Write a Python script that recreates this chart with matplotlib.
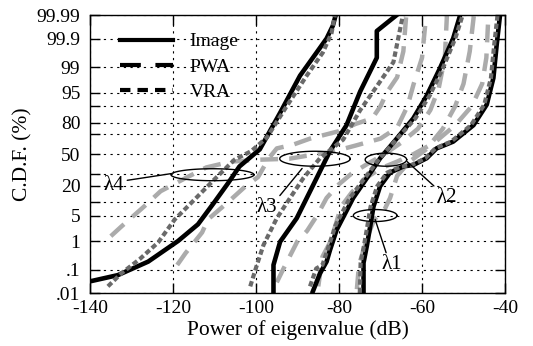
import numpy as np
import matplotlib
matplotlib.use("Agg")
import matplotlib.pyplot as plt
from matplotlib.lines import Line2D
from statistics import NormalDist

plt.rcParams["font.family"] = ["Liberation Serif", "DejaVu Serif"]
plt.rcParams["axes.unicode_minus"] = False

# ---- data: (power in dB, CDF in %) ----
# Image (black, solid)
img_l4_db = [-140, -133.3, -126, -118.8, -114, -110, -106.7, -104, -99.1, -94.2, -89.4, -85.4, -83, -81.5, -80.8]
img_l4_p = [0.033, 0.06, 0.2, 1, 3, 10, 22, 37, 55, 86.5, 98.2, 99.67, 99.9, 99.97, 99.99]
img_l3_db = [-95.8, -95.8, -94.2, -90.2, -85.4, -82.2, -78.2, -74.9, -70.9, -70.9, -66.1]
img_l3_p = [0.01, 0.15, 0.95, 4.3, 26, 53, 78, 95.3, 99.5, 99.95, 99.99]
img_l2_db = [-86.3, -84.6, -83, -82.2, -80.6, -76.6, -73.3, -70.1, -66.1, -62.1, -58.9, -55.7, -52.5, -50.8]
img_l2_p = [0.012, 0.07, 0.2, 0.5, 2.1, 12, 26, 45.5, 66, 83, 94, 98.9, 99.9, 99.99]
img_l1_db = [-74.1, -74.1, -73.3, -72.5, -71.7, -70.1, -67.7, -64.5, -62.1, -58.9, -56.5, -52.5, -47.6, -44.4, -42.8, -42, -41.2]
img_l1_p = [0.01, 0.18, 0.7, 2.6, 8, 19.5, 31, 37, 38.5, 45.5, 56, 63, 78, 90.7, 97.9, 99.83, 99.99]

# VRA (dark grey, short dashes)
vra_l4_db = [-135.7, -132.5, -128, -123.6, -119.6, -114.9, -110, -105.2, -101.2, -97.4, -92.6, -87.8, -83.9, -81.8, -81]
vra_l4_p = [0.02, 0.07, 0.25, 0.9, 4, 11, 25, 44, 53, 67, 90, 98.2, 99.67, 99.94, 99.99]
vra_l3_db = [-101.4, -99.8, -98.2, -95, -91.8, -88.6, -84.6, -79, -74.9, -70.9, -66.9, -64.6]
vra_l3_p = [0.02, 0.15, 0.75, 4.3, 12, 26, 45.5, 65, 88, 96.5, 99.3, 99.99]
vra_l2_db = [-87, -85.5, -84, -80.8, -77.4, -73.8, -70.2, -66, -61.6, -58.2, -55, -52, -50.2]
vra_l2_p = [0.02, 0.11, 0.15, 2.9, 12, 26, 45.5, 66, 83, 94, 98.9, 99.9, 99.99]
vra_l1_db = [-75, -74.8, -74, -73.2, -72.4, -70.8, -68.4, -65, -62.5, -59.2, -56.8, -53, -48.2, -45, -43.4, -42.6, -41.8]
vra_l1_p = [0.01, 0.18, 0.7, 2.6, 8, 19.5, 31, 37, 38.5, 45.5, 56, 63, 78, 90.7, 97.9, 99.83, 99.99]

# PWA (light grey, long dashes)
pwa_a_db = [-135, -132.5, -127, -123, -117, -112, -106, -99, -92, -88, -82, -76, -70, -66, -63.5, -62, -60, -59]
pwa_a_p = [1.4, 2.6, 8, 16, 26, 36, 42, 44, 45, 48, 52, 59, 66, 76, 90, 97, 99.5, 99.99]
pwa_b_db = [-119, -117, -113, -111.6, -106.7, -102.7, -99.5, -97, -95, -91, -87, -80, -76, -72, -70, -68.5, -66, -64.5, -63.8]
pwa_b_p = [0.15, 0.4, 1.8, 4, 10, 19, 27, 45, 56, 60, 66, 73, 79, 83, 90, 95, 98, 99.7, 99.99]
pwa_c_db = [-95, -93.5, -90, -87.7, -85.3, -83, -80, -77, -73, -69, -65, -61, -58, -56, -54.5, -54]
pwa_c_p = [0.03, 0.1, 1, 2, 5, 12, 21, 30, 40, 50, 62, 75, 88, 96, 99.5, 99.99]
pwa_d_db = [-85, -84, -82, -79.5, -77, -74, -70, -66, -62, -57, -52, -48, -45.5, -44.5, -44]
pwa_d_p = [0.02, 0.3, 1, 8, 15, 25, 35, 42, 50, 62, 78, 90, 97, 99.5, 99.99]
pwa_e_db = [-75.7, -75.2, -73, -71.5, -69, -67.7, -66, -63, -59, -55, -52, -50, -48.5, -47.5]
pwa_e_p = [0.015, 0.15, 1.5, 4, 7, 12, 28, 42, 55, 75, 90, 97, 99.7, 99.99]

# y ticks (normal probability paper)
ytick_vals = [0.01, 0.1, 1, 5, 10, 20, 30, 50, 70, 80, 90, 95, 99, 99.9, 99.99]
ytick_labels = [".01", ".1", "1", "5", "", "20", "", "50", "", "80", "", "95", "99", "99.9", "99.99"]
xtick_vals = [-140, -120, -100, -80, -60, -40]

# group markers: ellipse centre (dB, %), width (dB), height (normal quantile units)
ell_names = ["λ4", "λ3", "λ2", "λ1"]
ell_db = [-110.5, -85.8, -68.7, -71.3]
ell_p = [29, 45, 44, 5]
ell_w = [20, 17, 10, 10.5]
ell_h = [0.32, 0.40, 0.35, 0.32]
lab_db = [-134.2, -97.3, -54, -67.2]
lab_p = [20, 7.5, 12, 0.15]
tip_db = [-120.5, -88.9, -63.6, -71.3]
tip_p = [30, 35, 42, 4]
lab_rel = [(1.0, 0.75), (1.0, 1.0), (0.0, 1.0), (0.25, 1.0)]

nd = NormalDist()


def prob_fwd(p):
    p = np.clip(np.asarray(p, dtype=float), 1e-7, 100 - 1e-7)
    return np.vectorize(lambda v: nd.inv_cdf(v / 100) if np.isfinite(v) else np.nan,
                        otypes=[float])(p)


def prob_inv(z):
    z = np.asarray(z, dtype=float)
    return np.vectorize(lambda v: nd.cdf(v) * 100 if np.isfinite(v) else np.nan,
                        otypes=[float])(z)


fig = plt.figure(figsize=(5.33, 3.46), dpi=100)
ax = fig.add_axes([0.169, 0.153, 0.7785, 0.8036])
ax.set_yscale("function", functions=(prob_fwd, prob_inv))

light = "#ababab"
dark = "#6a6a6a"

for xs, ps in [(pwa_a_db, pwa_a_p), (pwa_b_db, pwa_b_p), (pwa_c_db, pwa_c_p),
               (pwa_d_db, pwa_d_p), (pwa_e_db, pwa_e_p)]:
    ax.plot(xs, ps, color=light, lw=3.2, linestyle=(0, (4, 2.5)), solid_capstyle="butt")

for xs, ps in [(img_l4_db, img_l4_p), (img_l3_db, img_l3_p),
               (img_l2_db, img_l2_p), (img_l1_db, img_l1_p)]:
    ax.plot(xs, ps, color="black", lw=3.3)

for xs, ps in [(vra_l4_db, vra_l4_p), (vra_l3_db, vra_l3_p),
               (vra_l2_db, vra_l2_p), (vra_l1_db, vra_l1_p)]:
    ax.plot(xs, ps, color=dark, lw=3.0, linestyle=(0, (1.3, 0.7)))

# ellipses drawn in (dB, normal quantile) space
t = np.linspace(0, 2 * np.pi, 120)
for cx, cp, w, h in zip(ell_db, ell_p, ell_w, ell_h):
    zc = nd.inv_cdf(cp / 100)
    ax.plot(cx + w / 2 * np.cos(t), prob_inv(zc + h / 2 * np.sin(t)), color="black", lw=1.0)

for name, lx, lp, tx, tp, rel in zip(ell_names, lab_db, lab_p, tip_db, tip_p, lab_rel):
    ax.annotate(name, xy=(tx, tp), xytext=(lx, lp), ha="center", va="center", fontsize=15,
                arrowprops=dict(arrowstyle="-", lw=1.0, color="black", relpos=rel,
                                shrinkA=0, shrinkB=0))

ax.set_xlim(-140, -40)
ax.set_ylim(0.01, 99.99)
ax.set_xticks(xtick_vals)
ax.set_yticks(ytick_vals)
ax.set_yticklabels(ytick_labels)
ax.minorticks_off()
ax.tick_params(direction="in", length=7, width=1.0, top=True, right=True, labelsize=14)
ax.tick_params(axis="y", pad=7)
ax.tick_params(axis="x", pad=5)
ax.grid(True, color="black", lw=0.8, linestyle=(0, (2, 4)))
for s in ax.spines.values():
    s.set_linewidth(1.0)

ax.set_xlabel("Power of eigenvalue (dB)", fontsize=15.5, labelpad=2)
ax.set_ylabel("C.D.F. (%)", fontsize=15.5, labelpad=3)

handles = [Line2D([], [], color="black", lw=3.0),
           Line2D([], [], color="black", lw=3.0, linestyle=(0, (5, 3.5))),
           Line2D([], [], color="black", lw=3.0, linestyle=(0, (2.5, 1.7)))]
ax.legend(handles, ["Image", "PWA", "VRA"], loc="upper left", bbox_to_anchor=(0.04, 0.985),
          frameon=False, fontsize=14, handlelength=2.7, handletextpad=0.85,
          labelspacing=0.4, borderpad=0.2)

fig.savefig("out.png", dpi=100)
